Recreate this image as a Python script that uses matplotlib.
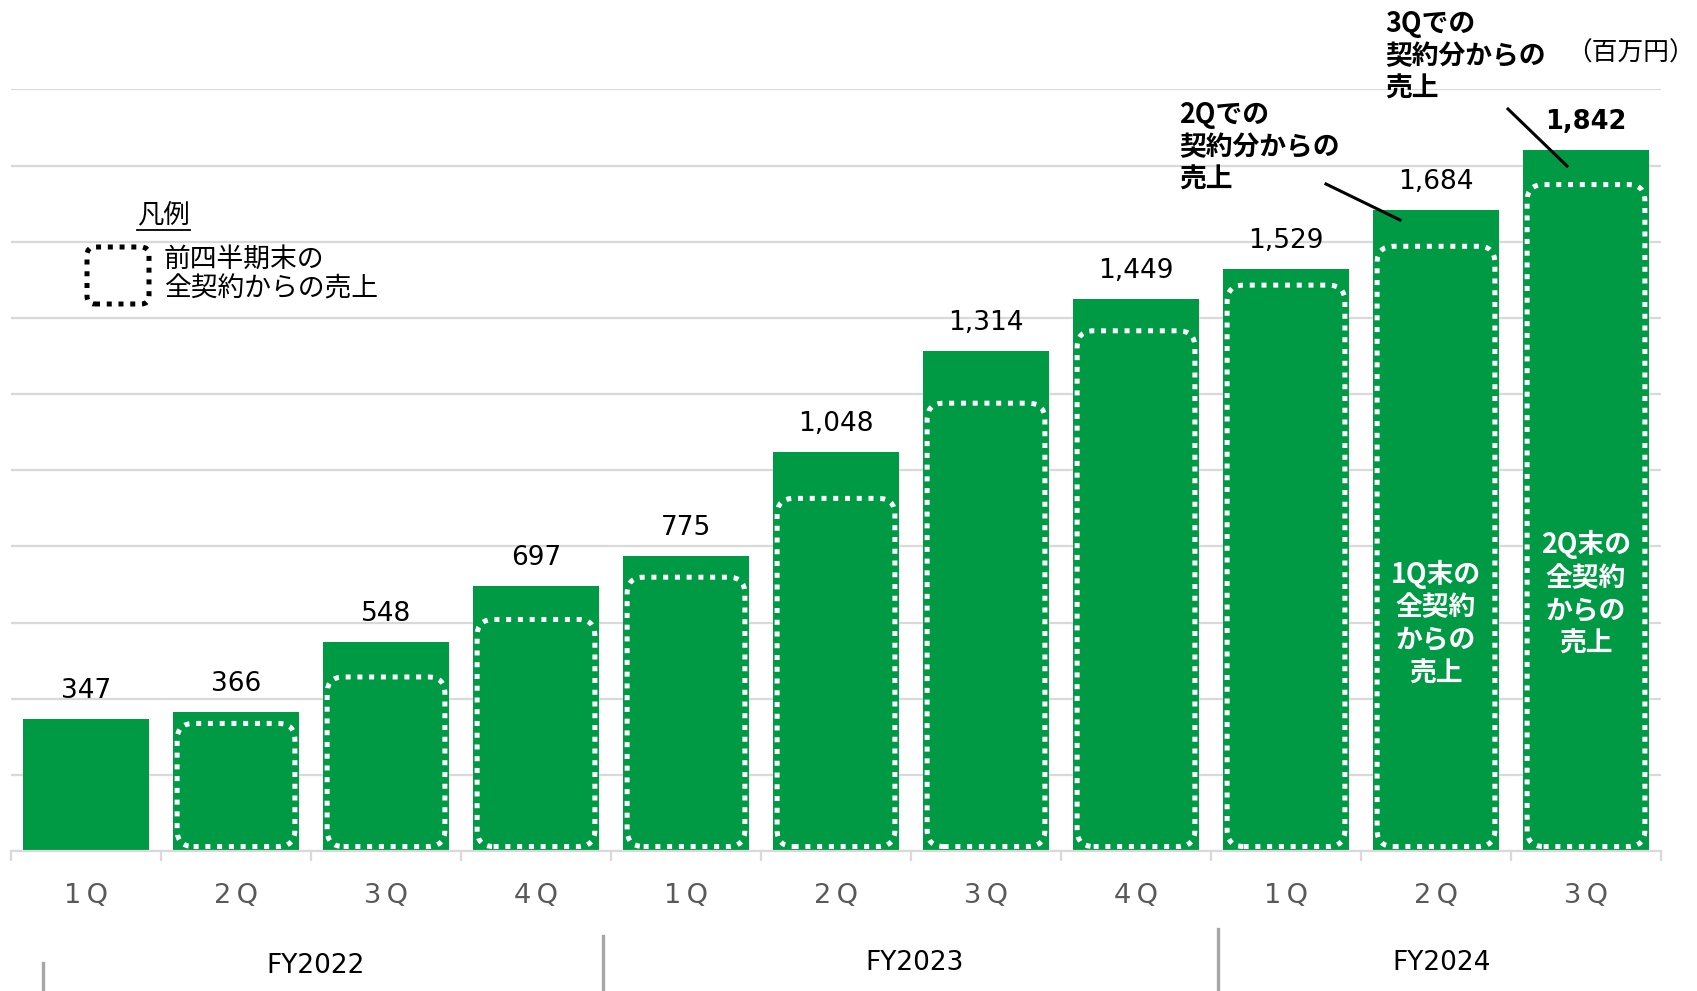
import matplotlib
matplotlib.use("Agg")
import numpy as np
import matplotlib.pyplot as plt
from matplotlib.patches import FancyBboxPatch
from matplotlib.lines import Line2D
from matplotlib.transforms import IdentityTransform

plt.rcParams["font.family"] = ["DejaVu Sans", "Noto Sans CJK JP"]
JP = ["Noto Sans CJK JP", "DejaVu Sans"]

# data (百万円)
quarters = ["1Q", "2Q", "3Q", "4Q", "1Q", "2Q", "3Q", "4Q", "1Q", "2Q", "3Q"]
sales = [347, 366, 548, 697, 775, 1048, 1314, 1449, 1529, 1684, 1842]
# top of the dotted "previous quarter" box drawn inside each bar
prev_box = [None, 335, 457, 608, 719, 926, 1176, 1366, 1486, 1588, 1750]
years = ["FY2022", "FY2023", "FY2024"]

GREEN = "#009944"
GRID = "#d9d9d9"
W, H = 1697, 991

fig = plt.figure(figsize=(W / 100, H / 100), dpi=100)
ax = fig.add_axes([11 / W, (H - 851) / H, 1650 / W, 762 / H])

x = np.arange(len(sales))
bw = 0.845
ax.bar(x, sales, width=bw, color=GREEN, zorder=2)
ax.set_xlim(-0.5, len(sales) - 0.5)
ax.set_ylim(0, 2001)

ax.set_yticks(np.arange(0, 2001, 200))
ax.yaxis.grid(True, color=GRID, lw=1.6, zorder=0)
ax.set_axisbelow(True)
ax.tick_params(axis="y", left=False, labelleft=False)
for s in ["left", "right", "top"]:
    ax.spines[s].set_visible(False)
ax.spines["bottom"].set_color(GRID)
ax.spines["bottom"].set_linewidth(1.6)

ax.set_xticks(x)
ax.set_xticklabels([q[0] + "\u2009" + q[1] for q in quarters], fontsize=19.5, color="#595959")
ax.set_xticks(np.arange(-0.5, len(sales), 1), minor=True)
ax.tick_params(axis="x", which="major", length=0, pad=23)
ax.tick_params(axis="x", which="minor", length=7, width=1.6, color=GRID)

# value labels
for i, v in enumerate(sales):
    last = i == len(sales) - 1
    ax.annotate(f"{v:,}", (i, v), xytext=(0, 15), textcoords="offset points",
                ha="center", va="baseline", fontsize=18.5 if last else 19,
                fontweight="bold" if last else "normal", color="black")

# dotted rounded boxes inside bars
fig.canvas.draw()
x_per_px = (len(sales)) / (ax.get_window_extent().width)
y_per_px = 2001 / ax.get_window_extent().height
aspect = y_per_px / x_per_px
for i, v in enumerate(prev_box):
    if v is None:
        continue
    x0 = i - bw / 2 + 4.5 * x_per_px
    wdt = bw - 9 * x_per_px
    y0 = 4.5 * y_per_px
    box = FancyBboxPatch((x0, y0), wdt, v - y0,
                         boxstyle="round,pad=0,rounding_size=0.11",
                         mutation_aspect=aspect, fill=False, ec="white",
                         lw=3.6, ls=(0, (1, 1.35)), zorder=3)
    ax.add_patch(box)

# white text inside the last two bars
ax.text(9, 598, "1Q末の\n全契約\nからの\n売上", ha="center", va="center",
        color="white", fontsize=19.3, fontweight="bold", family=JP,
        linespacing=1.22, zorder=4)
ax.text(10, 675, "2Q末の\n全契約\nからの\n売上", ha="center", va="center",
        color="white", fontsize=19.3, fontweight="bold", family=JP,
        linespacing=1.22, zorder=4)


def fx(px):
    return px / W


def fy(py):
    return 1 - py / H


# callouts
fig.text(fx(1179), fy(147), "2Qでの\n契約分からの\n売上", ha="left", va="center",
         fontsize=19.3, fontweight="bold", family=JP, linespacing=1.2)
fig.text(fx(1385), fy(56), "3Qでの\n契約分からの\n売上", ha="left", va="center",
         fontsize=19.3, fontweight="bold", family=JP, linespacing=1.2)
fig.add_artist(Line2D([fx(1326), fx(1400)], [fy(184), fy(220)], color="black", lw=2.2))
fig.add_artist(Line2D([fx(1508), fx(1567)], [fy(109), fy(166)], color="black", lw=2.2))
fig.text(fx(1631), fy(54), "（百万円）", ha="center", va="center", fontsize=18.5, family=JP)

# legend
fig.text(fx(163), fy(215), "凡例", ha="center", va="center", fontsize=19, family=JP)
fig.add_artist(Line2D([fx(137), fx(190)], [fy(230), fy(230)], color="black", lw=1.3))
fig.add_artist(FancyBboxPatch((87, H - 304), 62, 57,
                              boxstyle="round,pad=0,rounding_size=8",
                              transform=IdentityTransform(), fill=False, ec="black",
                              lw=3.6, ls=(0, (1, 1.35))))
fig.text(fx(164), fy(274), "前四半期末の\n全契約からの売上", ha="left", va="center",
         fontsize=19.3, family=JP, linespacing=1.15)

# fiscal year groups
for lbl, cx, cy in zip(years, [316, 915, 1442], [966, 963, 963]):
    fig.text(fx(cx), fy(cy), lbl, ha="center", va="center", fontsize=19, color="black")
for sx, top in zip([43, 603, 1218], [963, 936, 929]):
    fig.add_artist(Line2D([fx(sx), fx(sx)], [fy(top), fy(991)], color="#a6a6a6", lw=2.4))

fig.savefig("out.png", dpi=100)
